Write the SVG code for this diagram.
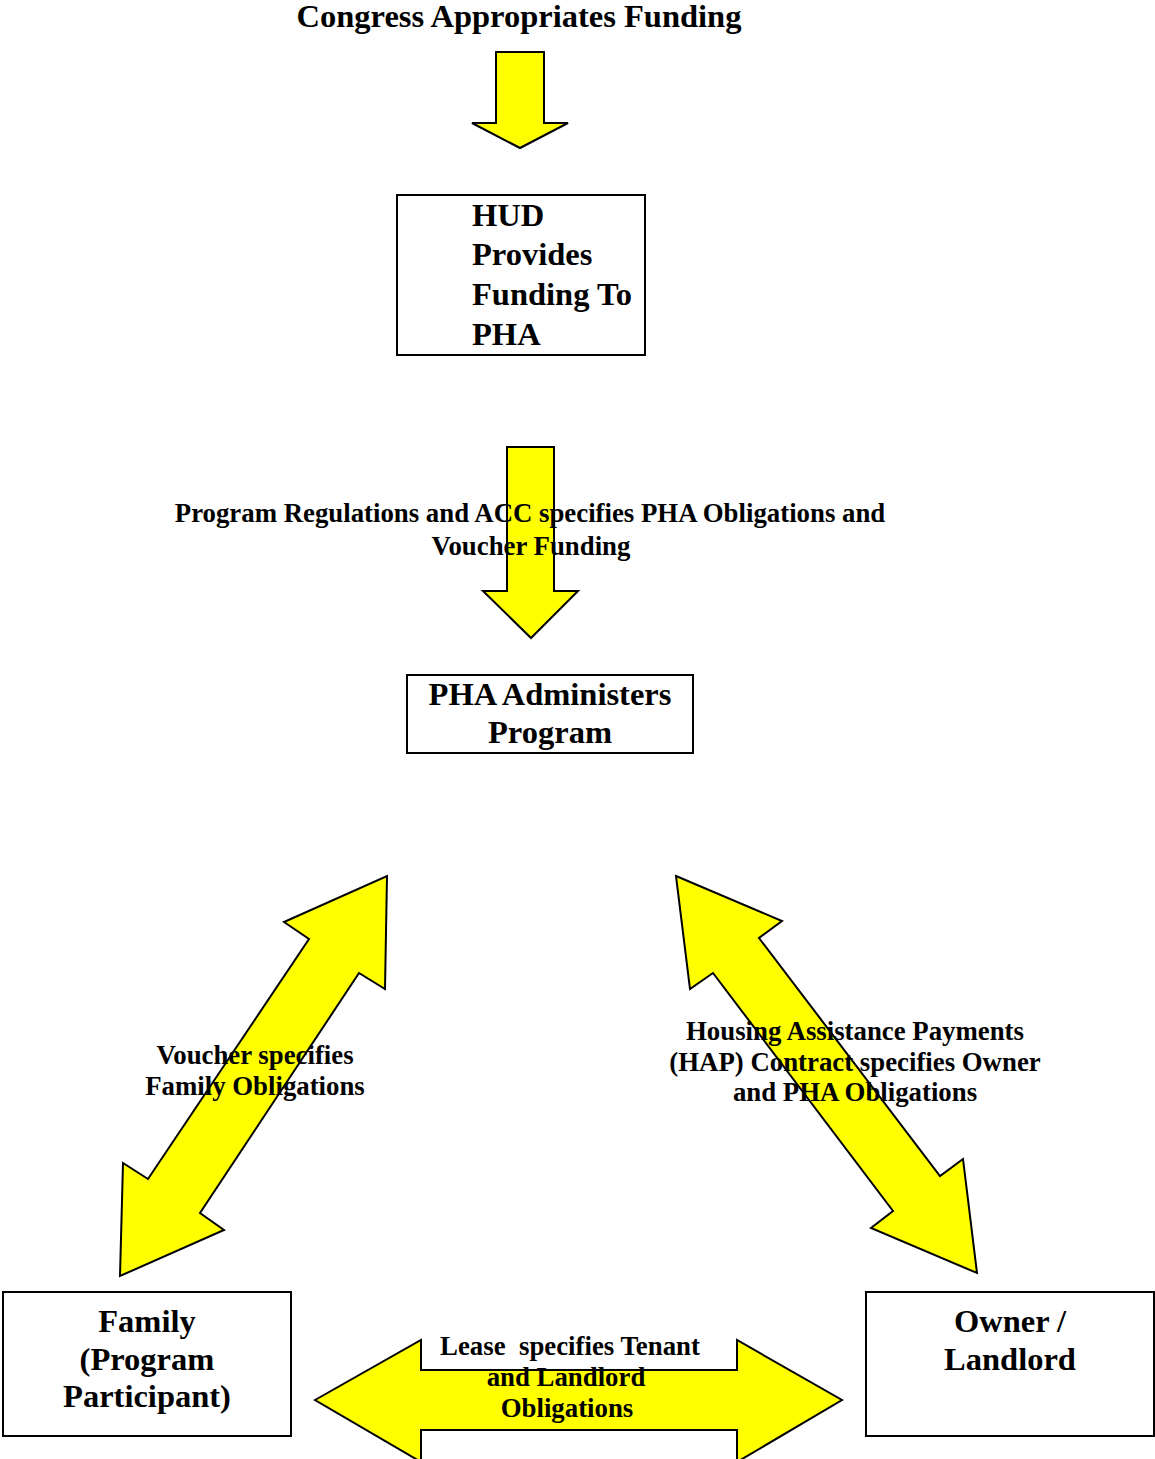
<svg xmlns="http://www.w3.org/2000/svg" width="1155" height="1459" viewBox="0 0 1155 1459">
<style>
.box{fill:#fff;stroke:#000;stroke-width:2}
.arrow{fill:#ffff00;stroke:#000;stroke-width:2;stroke-linejoin:miter}
.big{font-family:"Liberation Serif",serif;font-weight:bold;font-size:32.5px;fill:#000}
.lbl{font-family:"Liberation Serif",serif;font-weight:bold;font-size:26.8px;fill:#000}
</style>
<rect width="1155" height="1459" fill="#fff"/>
<g id="connectors">
<polygon class="arrow" points="496,52 544,52 544,123 568,123 520,148 472,123 496,123"/>
<polygon class="arrow" points="507,447 554,447 554,591 578,591 531,638 483,591 507,591"/>
<polygon class="arrow" points="387,876 385,989 359,973 200,1213 224,1230 120,1276 123,1163 148,1179 309,939 284,922"/>
<polygon class="arrow" points="676,876 782,921 759,938 940,1176 963,1159 977,1273 871,1228 893,1211 713,973 690,989"/>
<polygon class="arrow" points="315,1400 421,1340 421,1370 737,1370 737,1340 842,1400 737,1462 737,1430 421,1430 421,1462"/>
</g>
<g id="title">
<text class="big" x="519" y="27" text-anchor="middle">Congress Appropriates Funding</text>
</g>
<g id="hud">
<rect class="box" x="397" y="195" width="248" height="160"/>
<text class="big" x="472" y="226">HUD</text>
<text class="big" x="472" y="265">Provides</text>
<text class="big" x="472" y="305">Funding To</text>
<text class="big" x="472" y="345">PHA</text>
</g>
<g id="pha">
<rect class="box" x="407" y="675" width="286" height="78"/>
<text class="big" x="550" y="705" text-anchor="middle">PHA Administers</text>
<text class="big" x="550" y="743" text-anchor="middle">Program</text>
</g>
<g id="family">
<rect class="box" x="3" y="1292" width="288" height="144"/>
<text class="big" x="147" y="1332" text-anchor="middle">Family</text>
<text class="big" x="147" y="1370" text-anchor="middle">(Program</text>
<text class="big" x="147" y="1407" text-anchor="middle">Participant)</text>
</g>
<g id="owner">
<rect class="box" x="866" y="1292" width="288" height="144"/>
<text class="big" x="1010" y="1332" text-anchor="middle">Owner /</text>
<text class="big" x="1010" y="1370" text-anchor="middle">Landlord</text>
</g>
<g id="labels">
<text class="lbl" x="530" y="522" text-anchor="middle">Program Regulations and ACC specifies PHA Obligations and</text>
<text class="lbl" x="531" y="555" text-anchor="middle">Voucher Funding</text>
<text class="lbl" x="255" y="1064" text-anchor="middle">Voucher specifies</text>
<text class="lbl" x="255" y="1095" text-anchor="middle">Family Obligations</text>
<text class="lbl" x="855" y="1040" text-anchor="middle">Housing Assistance Payments</text>
<text class="lbl" x="855" y="1071" text-anchor="middle">(HAP) Contract specifies Owner</text>
<text class="lbl" x="855" y="1101" text-anchor="middle">and PHA Obligations</text>
<text class="lbl" x="570" y="1355" text-anchor="middle" xml:space="preserve">Lease  specifies Tenant</text>
<text class="lbl" x="566" y="1386" text-anchor="middle">and Landlord</text>
<text class="lbl" x="567" y="1417" text-anchor="middle">Obligations</text>
</g>
</svg>
